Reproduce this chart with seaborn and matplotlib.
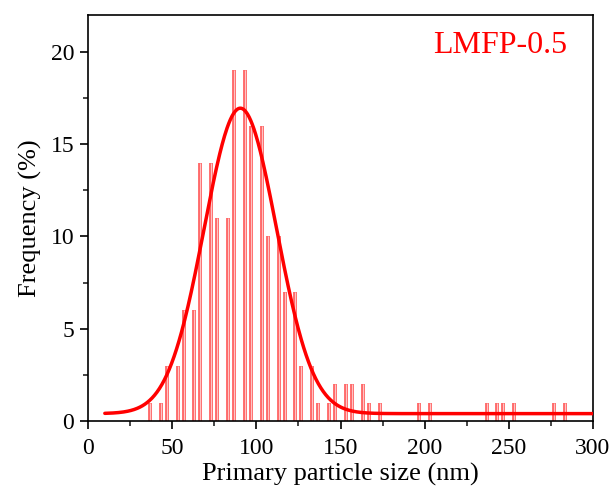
import numpy as np
import pandas as pd
import matplotlib
matplotlib.use("Agg")
import matplotlib.pyplot as plt
from matplotlib.ticker import MultipleLocator
import seaborn as sns

# Histogram data (bin centres in nm, frequency in %)
size_nm = [40, 50, 60, 70, 80, 90, 100, 110, 120, 130, 140, 150, 160, 170, 200, 240, 250, 280]
frequency = [1, 3, 6, 14, 11, 19, 16, 10, 7, 3, 1, 2, 2, 1, 1, 1, 1, 1]

# Gaussian fit parameters
fit_offset = 0.4
fit_amplitude = 16.55
fit_center = 90.5
fit_sigma = 21.5
fit_range = [10, 300]

label_text = "LMFP-0.5"
x_label = "Primary particle size (nm)"
y_label = "Frequency (%)"

sns.set_theme(style="ticks")
plt.rcParams['font.family'] = ['Liberation Serif', 'DejaVu Serif']

fig = plt.figure(figsize=(6.16, 4.93), dpi=100)
ax = fig.add_axes([88/616, 1-421/493, (593-88)/616, (421-15)/493])

df = pd.DataFrame({"size": size_nm, "freq": frequency})
sns.barplot(data=df, x="size", y="freq", native_scale=True, width=0.65,
            color="white", linewidth=0, fill=True, ax=ax, zorder=1)

# Draw the bar sides as striped vertical lines (the original shows no top edges)
xs_l, xs_r, tops = [], [], []
for p in ax.patches:
    x0 = p.get_x()
    w = p.get_width()
    h = p.get_height()
    xs_l.append(x0)
    xs_r.append(x0 + w)
    tops.append(h)
    p.set_facecolor("none")
edges_x = xs_l + xs_r
edges_top = tops + tops
ax.vlines(edges_x, 0, edges_top, colors=(1.0, 0.42, 0.42), linewidth=2.8, zorder=2)
ax.vlines(edges_x, 0, edges_top, colors=(1.0, 0.78, 0.78), linewidth=0.7, zorder=2)

xs = np.linspace(fit_range[0], fit_range[1], 600)
ys = fit_offset + fit_amplitude * np.exp(-(xs - fit_center) ** 2 / (2 * fit_sigma ** 2))
sns.lineplot(x=xs, y=ys, color="#ff0000", linewidth=2.5, ax=ax, zorder=3)

ax.set_xlim(0, 300)
ax.set_ylim(0, 22)
ax.xaxis.set_major_locator(MultipleLocator(50))
ax.xaxis.set_minor_locator(MultipleLocator(25))
ax.yaxis.set_major_locator(MultipleLocator(5))
ax.yaxis.set_minor_locator(MultipleLocator(2.5))
ax.tick_params(axis="both", which="major", direction="out", length=6, width=1.2,
               labelsize=17, colors="black", top=False, right=False, pad=4)
ax.tick_params(axis="x", which="major", pad=6)
ax.tick_params(axis="both", which="minor", direction="out", length=3.5, width=1.2,
               top=False, right=False)
for s in ax.spines.values():
    s.set_visible(True)
    s.set_linewidth(1.2)
    s.set_color("black")

ax.set_xlabel(x_label, fontsize=19, color="black", labelpad=3)
ax.set_ylabel(y_label, fontsize=19, color="black", labelpad=6)

ax.text(0.95, 0.926, label_text, transform=ax.transAxes, ha="right", va="center",
        fontsize=23, color="#ff0000")

fig.savefig("out.png", dpi=100)
